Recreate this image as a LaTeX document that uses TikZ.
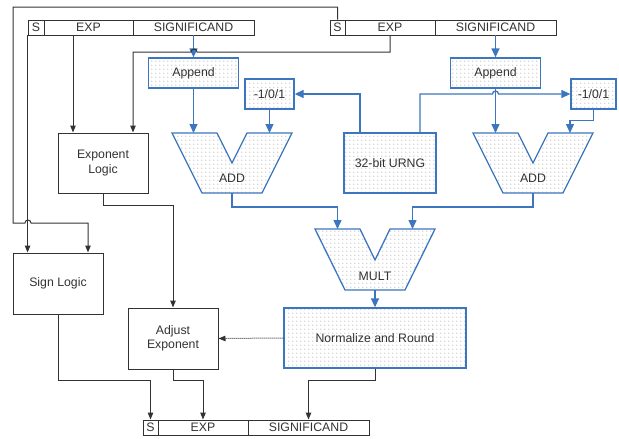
\documentclass[tikz,border=0pt]{standalone}
\usepackage{fontspec}
\setmainfont{Liberation Sans}
\usetikzlibrary{arrows.meta,patterns.meta}
\definecolor{blu}{RGB}{60,118,190}
\definecolor{dk}{RGB}{50,50,50}
\tikzdeclarepattern{
  name=mydots,
  type=uncolored,
  bottom left={(0pt,0pt)},
  top right={(4.3pt,4.3pt)},
  tile size={(4.3pt,4.3pt)},
  code={\fill (2.15pt,2.15pt) circle (0.5pt);}
}
\tikzset{
  every node/.style={font=\fontsize{12.3}{14.5}\selectfont, text=dk, inner sep=0pt, align=center},
  reg/.style={draw=dk, line width=0.9pt, minimum height=15pt},
  blkbox/.style={draw=dk, line width=1pt},
  dotbox/.style={draw=blu, line width=1.3pt, preaction={fill=white}, pattern=mydots, pattern color=black!65},
  bl/.style={draw=blu, line width=1.3pt},
  blarrow/.style={bl, -{Triangle[length=9pt,width=8pt]}},
  bk/.style={draw=dk, line width=1pt},
  bkarrow/.style={bk, -{Triangle[length=7pt,width=5.5pt]}},
}
\begin{document}
\begin{tikzpicture}[x=1pt,y=-1pt]
\useasboundingbox (0,0) rectangle (619,439);
% registers
\node[reg, minimum width=16pt] (s1) at (36,27.5) {S};
\node[reg, minimum width=89pt] (e1) at (88.5,27.5) {EXP};
\node[reg, minimum width=121pt] (g1) at (193.5,27.5) {SIGNIFICAND};
\node[reg, minimum width=15pt] (s2) at (337.5,27.5) {S};
\node[reg, minimum width=90pt] (e2) at (390,27.5) {EXP};
\node[reg, minimum width=121pt] (g2) at (495.5,27.5) {SIGNIFICAND};
\node[reg, minimum width=15pt] (s3) at (150.5,427.5) {S};
\node[reg, minimum width=90pt] (e3) at (203,427.5) {EXP};
\node[reg, minimum width=121pt] (g3) at (308.5,427.5) {SIGNIFICAND};
% boxes
\node[dotbox, minimum width=90pt, minimum height=30pt] (apL) at (193.5,73) {Append};
\node[dotbox, minimum width=90pt, minimum height=30pt] (apR) at (495.5,73) {Append};
\node[dotbox, minimum width=49pt, minimum height=30pt] (m1L) at (269.5,94) {-1/0/1};
\node[dotbox, minimum width=45pt, minimum height=30pt] (m1R) at (593.5,94) {-1/0/1};
\node[dotbox, minimum width=92pt, minimum height=60pt] (urng) at (390,163) {32-bit URNG};
\node[blkbox, minimum width=90pt, minimum height=60pt] (expL) at (103,163) {Exponent\\Logic};
\node[blkbox, minimum width=90pt, minimum height=61pt] (sign) at (58,283.5) {Sign Logic};
\node[blkbox, minimum width=90pt, minimum height=61pt] (adj) at (173,338.5) {Adjust\\Exponent};
\node[dotbox, minimum width=182pt, minimum height=60pt] (norm) at (375,338) {Normalize and Round};
% V-shaped units
\path[dotbox] (172,133) -- (217,133) -- (232,163) -- (247,133) -- (292,133) -- (262,193) -- (202,193) -- cycle;
\node (addL) at (232,178) {ADD};
\path[dotbox] (473,133) -- (518,133) -- (533,163) -- (548,133) -- (593,133) -- (563,193) -- (503,193) -- cycle;
\node (addR) at (533,178) {ADD};
\path[dotbox] (315,229) -- (360,229) -- (375,260) -- (390,229) -- (435,229) -- (405,290) -- (345,290) -- cycle;
\node (mult) at (375,276) {MULT};
\coordinate (addLin1) at (193.5,133);
\coordinate (addLin2) at (269.5,133);
\coordinate (addLout) at (232,193);
\coordinate (addRin1) at (495.5,133);
\coordinate (addRin2) at (570,133);
\coordinate (addRout) at (533,193);
\coordinate (multin1) at (337.5,229);
\coordinate (multin2) at (412.5,229);
\coordinate (multout) at (375,290);
\coordinate (tl) at (13,7);
% blue connectors
\draw[blarrow] (g1.south) -- (apL.north);
\draw[blarrow] (apL.south) -- (addLin1);
\draw[blarrow] (m1L.south) -- (addLin2);
\draw[blarrow] ([xshift=-30pt]urng.north) |- (m1L.east);
\draw[blarrow] ([xshift=30pt]urng.north) |- ([xshift=-3pt]apR.south |- m1R.west)
   arc[start angle=180, end angle=0, radius=3pt] -- (m1R.west);
\draw[blarrow] (g2.south) -- (apR.north);
\draw[blarrow] (apR.south) -- (addRin1);
\draw[blarrow] (m1R.south) -- ++(0,11) -| (addRin2);
\draw[blarrow] (addLout) -- ++(0,14) -| (multin1);
\draw[blarrow] (addRout) -- ++(0,14) -| (multin2);
\draw[blarrow] (multout) -- (norm.north);
% black connectors
\draw[bkarrow] (s2.north) |- (tl) |- (25,223) arc[start angle=180, end angle=0, radius=3pt] -- (88,223) -- (sign.north -| 88,0);
\draw[bkarrow] (s1.south west) -- (sign.north -| s1.south west);
\draw[bkarrow] (73,35) -- (expL.north -| 73,0);
\draw[bkarrow] (e2.south) |- (197,52) arc[start angle=0, end angle=180, radius=3pt] -- (133,52) -- (expL.north -| 133,0);
\draw[bkarrow] (expL.south) -- ++(0,12) -| (adj.north);
\draw[bkarrow] (sign.south) |- (150.5,380) -- (s3.north);
\draw[bkarrow] (adj.south) |- (203,380) -- (e3.north);
\draw[bkarrow] (norm.south) |- (308.5,380) -- (g3.north);
\draw[bkarrow, densely dotted] (norm.west) -- (adj.east);
\end{tikzpicture}
\end{document}
